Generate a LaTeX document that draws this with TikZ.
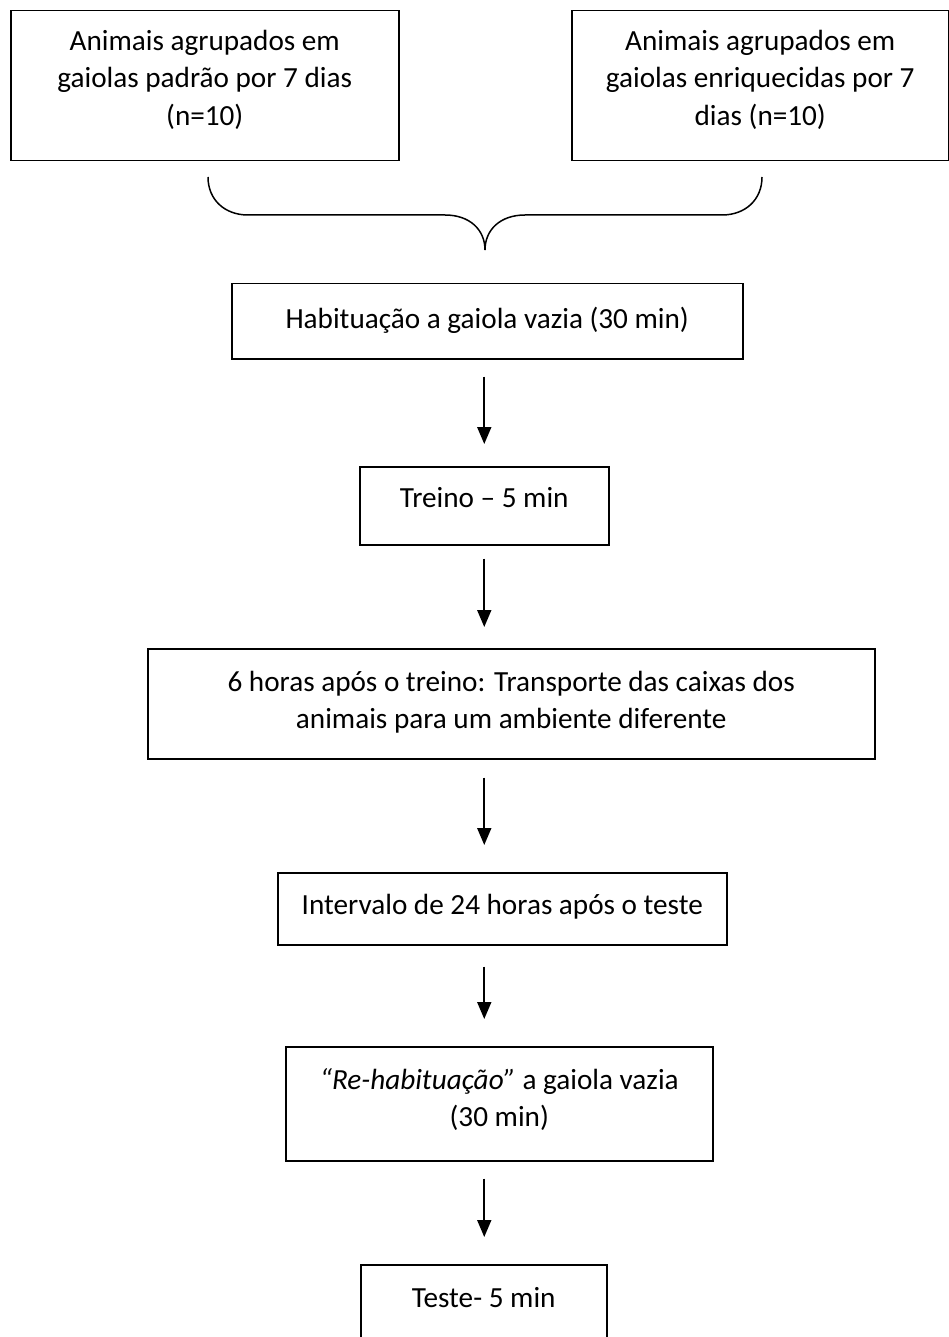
\documentclass[tikz,border=0pt]{standalone}
\usepackage{fontspec}
\setmainfont{Carlito}
\usetikzlibrary{arrows.meta}
\usetikzlibrary{positioning}

\tikzset{
	caixa/.style={draw, line width=1.5pt, inner sep=0pt, anchor=north west},
	texto/.style={align=center, inner sep=0pt, font=\fontsize{29.2}{37.5}\selectfont},
	seta/.style={line width=1.8pt, -{Triangle[width=14pt,length=17pt]}}
}

\begin{document}
\begin{tikzpicture}[x=1pt,y=-1pt]
	\useasboundingbox (0,0) rectangle (949,1337);
\node[caixa, minimum width=388pt, minimum height=150pt] (padrao) at (10,10) {};
\node[caixa, minimum width=377pt, minimum height=150pt] (enriq) at (571,10) {};
\node[caixa, minimum width=511pt, minimum height=75pt] (hab) at (231,283) {};
\node[caixa, minimum width=249pt, minimum height=78pt] (treino) at (359,466) {};
\node[caixa, minimum width=727pt, minimum height=110pt] (transp) at (147,648) {};
\node[caixa, minimum width=449pt, minimum height=72pt] (interv) at (277,872) {};
\node[caixa, minimum width=427pt, minimum height=114pt] (rehab) at (285,1046) {};
\node[caixa, minimum width=246pt, minimum height=100pt] (teste) at (360,1264) {};
	\node[texto, below=14pt of padrao.north] (padraoT) {\strut Animais agrupados em\\gaiolas padrão por 7 dias\\(n=10)};
	\node[texto, below=14pt of enriq.north] (enriqT) {\strut Animais agrupados em\\gaiolas enriquecidas por 7\\dias (n=10)};
	\node[texto, below=19pt of hab.north] (habT) {\strut Habituação a gaiola vazia (30 min)};
	\node[texto, below=15pt of treino.north] (treinoT) {\strut Treino – 5 min};
	\node[texto, below=17pt of transp.north] (transpT) {\strut 6 horas após o treino: Transporte das caixas dos\\animais para um ambiente diferente};
	\node[texto, below=16pt of interv.north] (intervT) {\strut Intervalo de 24 horas após o teste};
	\node[texto, below=17pt of rehab.north] (rehabT) {\strut \textit{“Re-habituação”} a gaiola vazia\\(30 min)};
	\node[texto, below=17pt of teste.north] (testeT) {\strut Teste- 5 min};
	\draw[line width=1.5pt] (208,177) .. controls (208,200) and (225,215) .. (248,215) -- (445,215) .. controls (470,215) and (485,230) .. (485,250);
	\draw[line width=1.5pt] (762,177) .. controls (762,200) and (745,215) .. (722,215) -- (525,215) .. controls (500,215) and (485,230) .. (485,250);
	\draw[seta, shorten <=17pt, shorten >=22pt] (treino.north |- hab.south) -- (treino.north);
	\draw[seta, shorten <=13pt, shorten >=21pt] (treino.south) -- (treino.south |- transp.north);
	\draw[seta, shorten <=18pt, shorten >=27pt] (treino.south |- transp.south) -- (treino.south |- interv.north);
	\draw[seta, shorten <=21pt, shorten >=27pt] (treino.south |- interv.south) -- (treino.south |- rehab.north);
	\draw[seta, shorten <=17pt, shorten >=27pt] (treino.south |- rehab.south) -- (treino.south |- teste.north);
\end{tikzpicture}
\end{document}
